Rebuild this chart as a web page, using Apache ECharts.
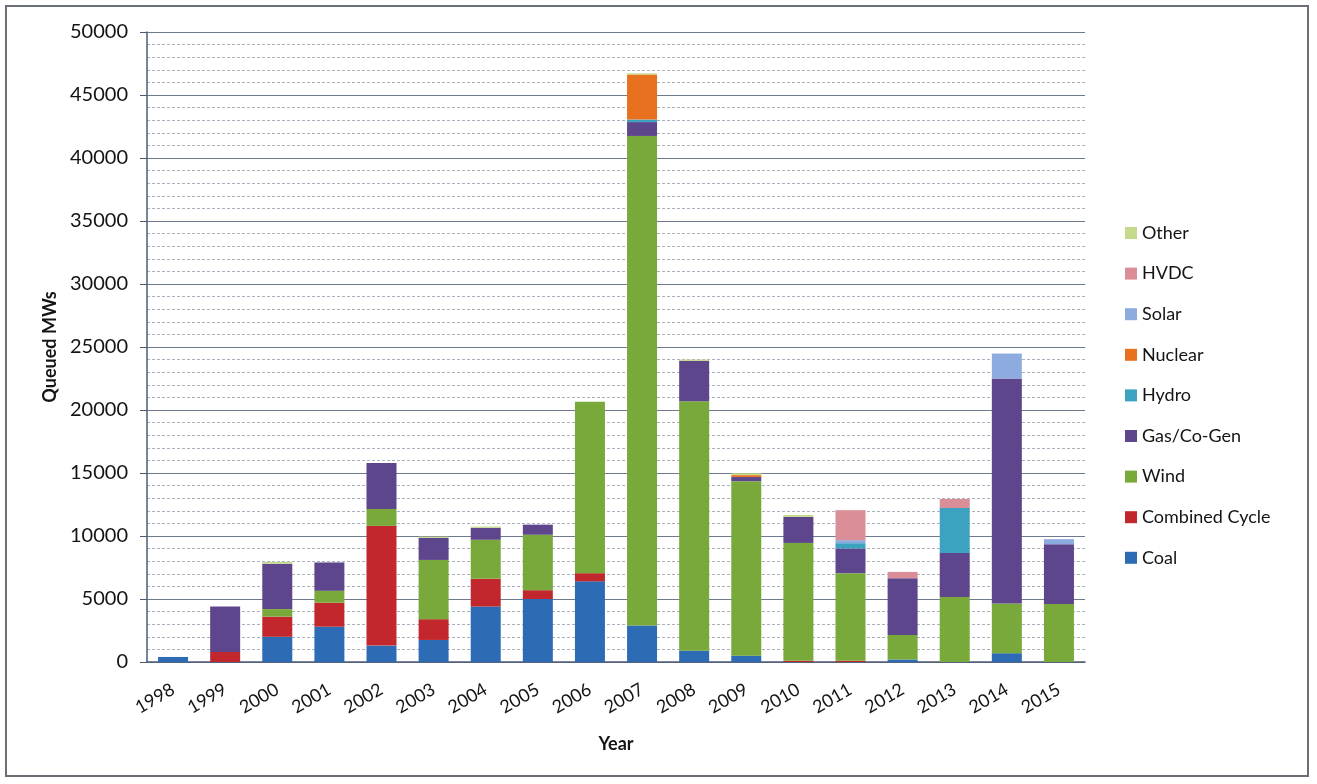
<!DOCTYPE html>
<html>
<head>
<meta charset="utf-8">
<script src="https://cdn.jsdelivr.net/npm/echarts@6/dist/echarts.min.js"></script>
<style>
  html, body { margin: 0; padding: 0; background: #fff; }
  #chart { width: 1317px; height: 784px; }
</style>
</head>
<body>
<div id="chart"></div>
<script>
const years = ['1998', '1999', '2000', '2001', '2002', '2003', '2004', '2005', '2006',
  '2007', '2008', '2009', '2010', '2011', '2012', '2013', '2014', '2015']

const coal = [400, 0, 2000, 2800, 1300, 1750, 4400, 5000, 6400, 2900, 900, 500, 0, 0, 200, 0, 700, 0]
const combinedCycle = [0, 800, 1600, 1900, 9500, 1650, 2200, 700, 650, 0, 0, 0, 100, 100, 0, 0, 0, 0]
const wind = [0, 0, 600, 950, 1350, 4700, 3100, 4400, 13600, 38850, 19800, 13850, 9350, 6950, 1950, 5150, 3950, 4600]
const gas = [0, 3600, 3600, 2250, 3650, 1750, 950, 800, 0, 1100, 3200, 330, 2070, 1960, 4500, 3500, 17850, 4750]
const hydro = [0, 0, 0, 0, 0, 0, 0, 0, 0, 200, 0, 0, 0, 420, 0, 3570, 0, 0]
const nuclear = [0, 0, 0, 0, 0, 0, 0, 0, 0, 3570, 0, 150, 0, 0, 0, 0, 0, 0]
const solar = [0, 0, 0, 0, 0, 0, 0, 0, 0, 0, 0, 0, 0, 240, 0, 0, 1980, 400]
const hvdc = [0, 0, 0, 0, 0, 0, 0, 0, 0, 0, 0, 0, 0, 2380, 500, 720, 0, 0]
const other = [0, 0, 150, 0, 0, 100, 100, 0, 0, 100, 100, 150, 150, 0, 0, 0, 0, 0]

const seriesDefs = [
  { name: 'Coal', data: coal, color: '#2d6cb5' },
  { name: 'Combined Cycle', data: combinedCycle, color: '#c1272d' },
  { name: 'Wind', data: wind, color: '#79a83b' },
  { name: 'Gas/Co-Gen', data: gas, color: '#5d468c' },
  { name: 'Hydro', data: hydro, color: '#3ca2c0' },
  { name: 'Nuclear', data: nuclear, color: '#e8711f' },
  { name: 'Solar', data: solar, color: '#8eabe0' },
  { name: 'HVDC', data: hvdc, color: '#da8e98' },
  { name: 'Other', data: other, color: '#c6da8c' },
]

const FONT = 'Lato'
const INK = '#141414'

const chart = echarts.init(document.getElementById('chart'))

chart.setOption({
  animation: false,
  textStyle: { fontFamily: FONT },
  graphic: [
    {
      type: 'rect',
      shape: { x: 6, y: 6, width: 1302, height: 770 },
      style: { fill: 'none', stroke: '#6b6f78', lineWidth: 2 },
      silent: true,
    },
  ],
  legend: {
    orient: 'vertical',
    left: 1120,
    top: 219,
    itemWidth: 12,
    itemHeight: 12,
    itemGap: 22.6,
    icon: 'rect',
    textStyle: { fontSize: 18, color: INK, fontFamily: FONT },
    data: seriesDefs.map(s => s.name).reverse(),
  },
  grid: { left: 147, right: 232, top: 32, bottom: 122 },
  xAxis: {
    type: 'category',
    data: years,
    name: 'Year',
    nameLocation: 'middle',
    nameGap: 73,
    nameTextStyle: { fontSize: 18, fontWeight: 'bold', color: INK },
    axisLine: { lineStyle: { color: '#4d5b78', width: 1.5 } },
    axisTick: { show: false },
    axisLabel: { rotate: 30, margin: 26, fontSize: 18, color: INK },
  },
  yAxis: {
    type: 'value',
    min: 0,
    max: 50000,
    interval: 5000,
    name: 'Queued MWs',
    nameLocation: 'middle',
    nameGap: 86,
    nameTextStyle: { fontSize: 18, fontWeight: 'bold', color: INK },
    axisLine: { show: true, lineStyle: { color: '#4d5b78', width: 1.5 } },
    axisTick: { show: true, length: 7, lineStyle: { color: '#4d5b78' } },
    axisLabel: { margin: 19, fontSize: 20, color: INK, formatter: v => String(v) },
    splitLine: { lineStyle: { color: '#6f7a8e', width: 1.2 } },
    minorTick: { show: false, splitNumber: 5 },
    minorSplitLine: { show: true, lineStyle: { color: '#aab1bd', type: [3, 2], width: 1 } },
  },
  series: seriesDefs.map(s => ({
    name: s.name,
    type: 'bar',
    stack: 'total',
    barWidth: 30,
    data: s.data,
    itemStyle: { color: s.color },
  })),
})
</script>
</body>
</html>
